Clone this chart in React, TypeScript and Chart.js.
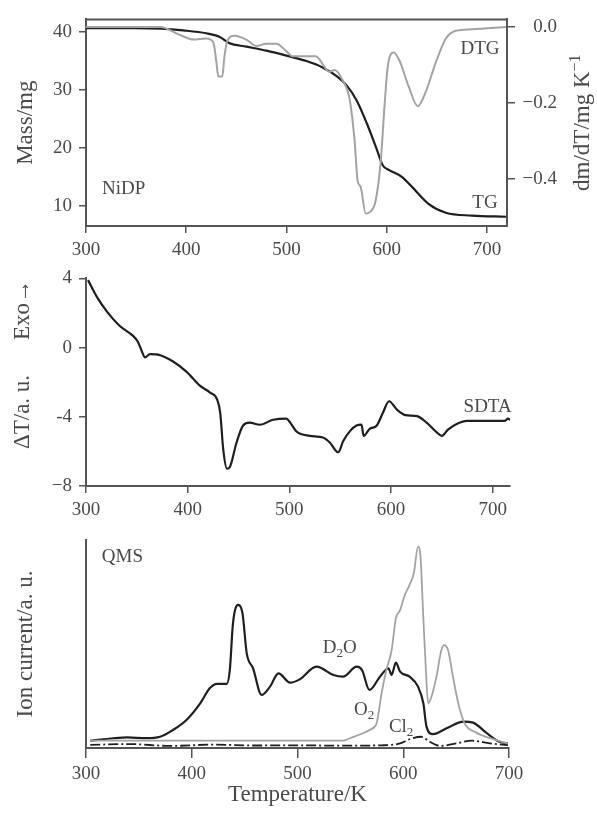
import React, { useEffect, useRef } from "react";
import { Chart, registerables } from "chart.js";

Chart.register(...registerables);

const SERIF = "'Liberation Serif', 'Times New Roman', serif";
const TEXT = "#4a4a4a";
const AXIS = "#555555";
const BLACK = "#1f1f1f";
const GREY = "#a3a3a3";

// ---------- Panel 1: TG / DTG ----------
const tgT = [300, 347, 375, 397, 420, 433, 443, 460, 480, 503, 520, 536, 550, 560, 570, 580, 590, 596, 602, 615, 625, 642, 659, 685, 719];
const tgMass = [40.7, 40.7, 40.6, 40.3, 39.8, 39.2, 38.1, 37.5, 36.8, 35.8, 35.0, 33.9, 32.4, 30.8, 28.2, 24.3, 19.8, 17.0, 16.2, 15.0, 13.3, 10.3, 8.8, 8.3, 8.1];

const dtgT = [300, 374, 393, 407, 420, 427, 430, 432, 436, 438, 441, 448, 460, 470, 480, 490, 500, 506, 529, 543, 548, 556, 563, 568, 571, 574, 579, 583, 589, 594, 598, 601, 607, 613, 622, 631, 639, 649, 659, 669, 685, 719];
const dtgRate = [0, 0, -0.02, -0.033, -0.03, -0.04, -0.09, -0.13, -0.13, -0.08, -0.036, -0.023, -0.033, -0.05, -0.044, -0.044, -0.064, -0.077, -0.077, -0.118, -0.113, -0.14, -0.19, -0.3, -0.405, -0.42, -0.49, -0.487, -0.456, -0.354, -0.2, -0.105, -0.067, -0.09, -0.157, -0.208, -0.17, -0.093, -0.03, -0.01, -0.006, 0];

// ---------- Panel 2: SDTA ----------
const sdtaT = [302, 311, 321, 333, 346, 351, 355, 358, 363, 373, 386, 399, 412, 422, 429, 432, 435, 438.6, 441.5, 448, 454.5, 461, 471, 484, 497, 501, 507, 520, 533, 540, 548, 553, 560, 566, 571, 573, 579, 586, 592, 598, 606, 614, 625.5, 635, 645, 650, 656, 665, 674.6, 697, 712, 715, 718];
const sdtaVal = [3.9, 2.9, 2.05, 1.26, 0.69, 0.34, -0.23, -0.57, -0.38, -0.44, -0.82, -1.4, -2.2, -2.6, -3.0, -3.77, -5.9, -7.0, -6.9, -5.5, -4.5, -4.34, -4.46, -4.17, -4.1, -4.35, -4.85, -5.1, -5.2, -5.5, -6.05, -5.4, -4.8, -4.5, -4.45, -5.1, -4.7, -4.5, -3.77, -3.1, -3.6, -3.9, -3.96, -4.34, -4.9, -5.1, -4.74, -4.4, -4.23, -4.23, -4.23, -4.1, -4.2];

// ---------- Panel 3: QMS ----------
const d2oT = [304, 326, 339, 357, 370, 382, 395, 408, 417, 424, 433, 436, 439, 444, 448, 452, 458, 466, 474, 482, 493, 502, 518, 534, 543, 556, 561, 568, 578, 586, 589, 593, 597, 606, 614, 619, 622, 628, 641, 657, 666, 679, 691, 699];
const d2oVal = [3.5, 4.7, 5.1, 4.7, 5.4, 8.6, 13.5, 21.5, 28.7, 30.8, 30.8, 37.5, 60, 68.8, 64.7, 45.5, 38.3, 25.5, 29.5, 35.9, 31.4, 33.0, 39.1, 35.1, 34.3, 39.1, 37.5, 27.9, 34.3, 38.3, 35.1, 41, 36.7, 34.3, 29.5, 21.5, 10.3, 6.7, 9.5, 12.7, 12.2, 7.1, 3.0, 2.2];

const o2T = [304, 543, 549.5, 562, 568, 573, 575, 579.5, 584, 589, 593, 597, 601.5, 606, 610, 614, 616.3, 618.8, 621.4, 623.6, 626.7, 631.4, 636, 638.6, 642.4, 647, 652, 658, 669, 682, 699];
const o2Val = [3.5, 3.5, 4.7, 7.1, 8.6, 10.3, 12.2, 26.3, 37.5, 47, 62.3, 66.3, 73.6, 78.4, 84, 96.8, 92, 64.7, 37.5, 21.5, 24.7, 34.3, 47, 49.5, 47, 34.3, 21.5, 11.8, 7.4, 4.7, 2.2];

const cl2T = [304, 340, 380, 420, 460, 500, 540, 580, 597, 606, 617, 625, 635, 650, 665, 682, 699];
const cl2Val = [1.5, 1.9, 1.0, 1.6, 1.2, 1.3, 1.1, 1.3, 2.2, 4.2, 5.4, 3.0, 1.0, 2.2, 3.5, 2.2, 1.4];

// ---------- Ticks ----------
const tempTicks = [300, 400, 500, 600, 700];
const massTicks = [10, 20, 30, 40];
const rateTicks = [0, -0.2, -0.4];
const rateTickLabels = ["0.0", "\u22120.2", "\u22120.4"];
const sdtaTicks = [4, 0, -4, -8];
const sdtaTickLabels = ["4", "0", "-4", "\u22128"];

const pts = (xs: number[], ys: number[]) => xs.map((x, i) => ({ x, y: ys[i] }));

type Part = { t: string; sub?: boolean; sup?: boolean };
type Note = { parts: Part[]; x: number; y: number; axis: string; align: "left" | "center" | "right" };

function drawParts(ctx: CanvasRenderingContext2D, parts: Part[], x: number, y: number, align: string, size: number) {
  const main = `${size}px ${SERIF}`;
  const small = `${Math.round(size * 0.68)}px ${SERIF}`;
  let w = 0;
  parts.forEach((p) => {
    ctx.font = p.sub || p.sup ? small : main;
    w += ctx.measureText(p.t).width;
  });
  let cx = align === "left" ? x : align === "right" ? x - w : x - w / 2;
  ctx.textAlign = "left";
  ctx.textBaseline = "middle";
  parts.forEach((p) => {
    ctx.font = p.sub || p.sup ? small : main;
    const dy = p.sub ? size * 0.3 : p.sup ? -size * 0.32 : 0;
    ctx.fillText(p.t, cx, y + dy);
    cx += ctx.measureText(p.t).width;
  });
}

function notesPlugin(notes: Note[]) {
  return {
    id: "notes",
    afterDatasetsDraw(chart: any) {
      const ctx = chart.ctx;
      ctx.save();
      ctx.fillStyle = TEXT;
      notes.forEach((n) => {
        const px = chart.scales.x.getPixelForValue(n.x);
        const py = chart.scales[n.axis].getPixelForValue(n.y);
        drawParts(ctx, n.parts, px, py, n.align, 19);
      });
      ctx.restore();
    },
  };
}

const topFramePlugin = {
  id: "topFrame",
  afterDraw(chart: any) {
    const { ctx, chartArea } = chart;
    ctx.save();
    ctx.strokeStyle = AXIS;
    ctx.lineWidth = 2;
    ctx.beginPath();
    ctx.moveTo(chartArea.left - 1, chartArea.top);
    ctx.lineTo(chartArea.right + 1, chartArea.top);
    ctx.stroke();
    ctx.restore();
  },
};

// right-hand axis title of the TG/DTG panel, reading bottom to top
const rateTitlePlugin = {
  id: "rateTitle",
  afterDraw(chart: any) {
    const ctx = chart.ctx;
    const { top, bottom } = chart.chartArea;
    ctx.save();
    ctx.fillStyle = TEXT;
    ctx.translate(583, (top + bottom) / 2);
    ctx.rotate(-Math.PI / 2);
    drawParts(ctx, [{ t: "dm/dT/mg K" }, { t: "\u22121", sup: true }], 0, 0, "center", 23);
    ctx.restore();
  },
};

const sdtaTitlePlugin = {
  id: "sdtaTitle",
  afterDraw(chart: any) {
    const ctx = chart.ctx;
    ctx.save();
    ctx.fillStyle = TEXT;
    ctx.font = `23px ${SERIF}`;
    ctx.textAlign = "center";
    ctx.textBaseline = "middle";
    ctx.translate(23, 0);
    ctx.rotate(-Math.PI / 2);
    ctx.fillText("\u0394T/a. u.", -152, 0);
    ctx.fillText("Exo\u2192", -50, 0);
    ctx.restore();
  },
};

const tickFont = { family: SERIF, size: 19 };
const titleFont = { family: SERIF, size: 23 };

function fixed(values: number[]) {
  return (s: any) => {
    s.ticks = values.map((v) => ({ value: v }));
  };
}

function xAxis(max: number, height: number, tl: number, pad: number, title?: string) {
  return {
    type: "linear",
    min: 300,
    max,
    afterBuildTicks: fixed(tempTicks),
    afterFit: (s: any) => {
      s.height = height;
    },
    ticks: { font: tickFont, color: TEXT, padding: pad, maxRotation: 0, autoSkip: false },
    grid: { drawOnChartArea: false, tickLength: tl, color: AXIS, lineWidth: 1.5 },
    border: { color: AXIS, width: 2 },
    title: title
      ? { display: true, text: title, font: titleFont, color: TEXT, padding: { top: 0, bottom: 5 } }
      : { display: false },
  };
}

function leftAxis(min: number, max: number, tickVals: number[] | null, labels: string[] | null, title?: string) {
  return {
    type: "linear",
    position: "left",
    min,
    max,
    afterBuildTicks: tickVals ? fixed(tickVals) : undefined,
    afterFit: (s: any) => {
      s.width = 86;
    },
    ticks: {
      display: !!tickVals,
      font: tickFont,
      color: TEXT,
      padding: 7,
      callback: (v: number, i: number) => (labels ? labels[i] : String(v)),
    },
    grid: { display: !!tickVals, drawOnChartArea: false, tickLength: 7, color: AXIS, lineWidth: 1.5 },
    border: { color: AXIS, width: 2 },
    title: title
      ? { display: true, text: title, font: titleFont, color: TEXT, padding: { top: 12, bottom: 0 } }
      : { display: false },
  };
}

const lineDefaults = {
  pointRadius: 0,
  fill: false,
  cubicInterpolationMode: "monotone",
};

export default function App() {
  const r1 = useRef<HTMLCanvasElement>(null);
  const r2 = useRef<HTMLCanvasElement>(null);
  const r3 = useRef<HTMLCanvasElement>(null);

  useEffect(() => {
    const common = {
      animation: false,
      responsive: false,
      events: [],
      plugins: { legend: { display: false }, tooltip: { enabled: false } },
    };

    const c1 = new Chart(r1.current!, {
      type: "line",
      data: {
        datasets: [
          { ...lineDefaults, data: pts(dtgT, dtgRate), borderColor: GREY, borderWidth: 2, yAxisID: "y1" },
          { ...lineDefaults, data: pts(tgT, tgMass), borderColor: BLACK, borderWidth: 2.2, yAxisID: "y" },
        ],
      } as any,
      options: {
        ...common,
        layout: { padding: { top: 14, left: 0, right: 40, bottom: 0 } },
        scales: {
          x: xAxis(720, 34, 7, 6),
          y: leftAxis(6.5, 42.2, massTicks, null, "Mass/mg"),
          y1: {
            type: "linear",
            position: "right",
            min: -0.523,
            max: 0.02,
            afterBuildTicks: fixed(rateTicks),
            afterFit: (s: any) => {
              s.width = 50;
            },
            ticks: {
              font: tickFont,
              color: TEXT,
              padding: 8,
              crossAlign: "far",
              callback: (_v: number, i: number) => rateTickLabels[i],
            },
            grid: { drawOnChartArea: false, tickLength: 8, color: AXIS, lineWidth: 1.5 },
            border: { color: AXIS, width: 2 },
            title: { display: false },
          },
        },
      } as any,
      plugins: [
        topFramePlugin,
        rateTitlePlugin,
        notesPlugin([
          { parts: [{ t: "NiDP" }], x: 316, y: 12.85, axis: "y", align: "left" },
          { parts: [{ t: "DTG" }], x: 693, y: 37.0, axis: "y", align: "center" },
          { parts: [{ t: "TG" }], x: 698, y: 10.5, axis: "y", align: "center" },
        ]),
      ] as any,
    });

    const c2 = new Chart(r2.current!, {
      type: "line",
      data: {
        datasets: [{ ...lineDefaults, data: pts(sdtaT, sdtaVal), borderColor: BLACK, borderWidth: 2.2 }],
      } as any,
      options: {
        ...common,
        layout: { padding: { top: 14, left: 0, right: 87, bottom: 0 } },
        scales: {
          x: xAxis(717, 34, 7, 6),
          y: leftAxis(-8, 4, sdtaTicks, sdtaTickLabels),
        },
      } as any,
      plugins: [
        sdtaTitlePlugin,
        notesPlugin([{ parts: [{ t: "SDTA" }], x: 695, y: -3.43, axis: "y", align: "center" }]),
      ] as any,
    });

    const c3 = new Chart(r3.current!, {
      type: "line",
      data: {
        datasets: [
          { ...lineDefaults, data: pts(o2T, o2Val), borderColor: GREY, borderWidth: 1.8 },
          { ...lineDefaults, data: pts(d2oT, d2oVal), borderColor: BLACK, borderWidth: 2.2 },
          { ...lineDefaults, data: pts(cl2T, cl2Val), borderColor: BLACK, borderWidth: 1.8, borderDash: [10, 3, 2, 3] },
        ],
      } as any,
      options: {
        ...common,
        layout: { padding: { top: 20, left: 0, right: 88, bottom: 0 } },
        scales: {
          x: xAxis(700, 66, 10, 5, "Temperature/K"),
          y: leftAxis(0, 100, null, null, "Ion current/a. u."),
        },
      } as any,
      plugins: [
        notesPlugin([
          { parts: [{ t: "QMS" }], x: 315, y: 91.8, axis: "y", align: "left" },
          { parts: [{ t: "D" }, { t: "2", sub: true }, { t: "O" }], x: 540, y: 48, axis: "y", align: "center" },
          { parts: [{ t: "O" }, { t: "2", sub: true }], x: 563, y: 18.3, axis: "y", align: "center" },
          { parts: [{ t: "Cl" }, { t: "2", sub: true }], x: 598, y: 10.1, axis: "y", align: "center" },
        ]),
      ] as any,
    });

    return () => {
      c1.destroy();
      c2.destroy();
      c3.destroy();
    };
  }, []);

  return (
    <div style={{ position: "absolute", left: 0, top: 0, width: 597, height: 814, background: "#fff" }}>
      <canvas ref={r1} width={597} height={260} style={{ position: "absolute", left: 0, top: 0 }} />
      <canvas ref={r2} width={597} height={260} style={{ position: "absolute", left: 0, top: 260 }} />
      <canvas ref={r3} width={597} height={294} style={{ position: "absolute", left: 0, top: 520 }} />
    </div>
  );
}
